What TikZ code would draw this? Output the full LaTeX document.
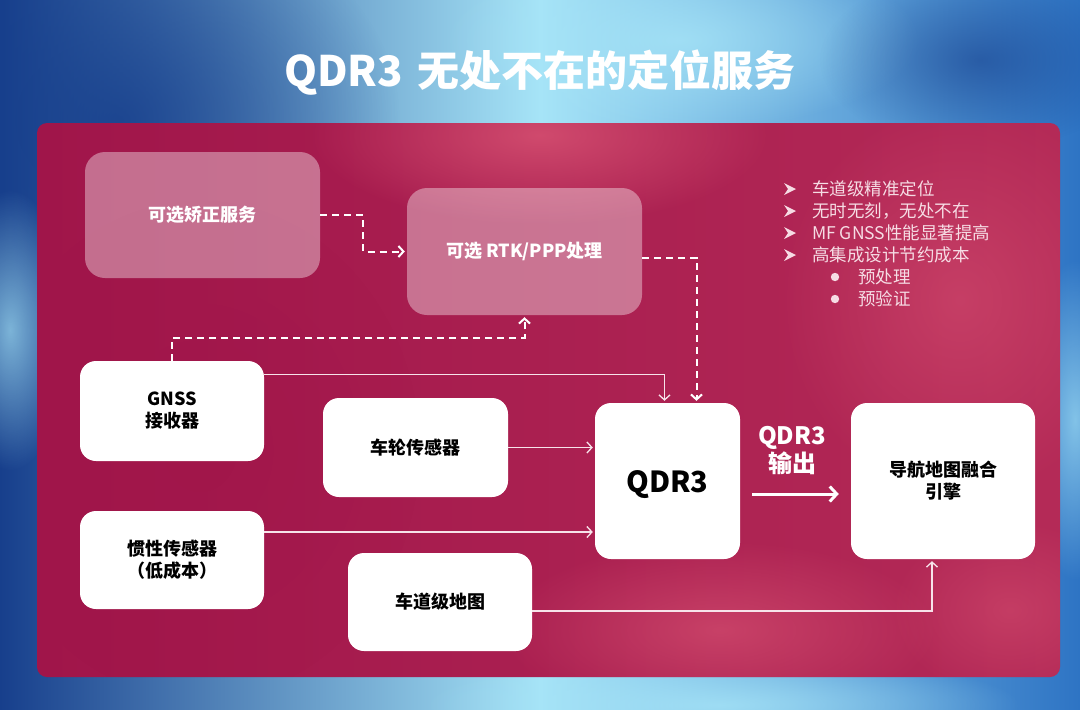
\documentclass[tikz,border=0pt]{standalone}
\usepackage{fontspec}
\setmainfont{Noto Sans CJK SC}
\usetikzlibrary{arrows.meta,fadings}
\tikzfading[name=softspot, inner color=transparent!0, outer color=transparent!100]
\definecolor{bgdark}{HTML}{173F8C}
\definecolor{bgmid}{HTML}{2E74C4}
\definecolor{bglight}{HTML}{A6E4F7}
\definecolor{panelA}{HTML}{A0154A}
\definecolor{panelB}{HTML}{B42A57}
\definecolor{spotpink}{HTML}{DA5575}
\definecolor{bullettext}{HTML}{F6DCE4}
\definecolor{linecol}{HTML}{F7E3EA}
\tikzset{
  wbox/.style={draw=none, fill=white, rounded corners=16pt, align=center, text=black,
    font=\bfseries\fontsize{18}{22}\selectfont},
  pbox/.style={draw=none, fill=white, fill opacity=0.38, text opacity=1, text=white,
    rounded corners=20pt, align=center, font=\bfseries\fontsize{18}{22}\selectfont},
  dsh/.style={draw=white, line width=2pt, dash pattern=on 7pt off 5pt,
    -{Straight Barb[length=5pt,width=11pt]}, shorten >=2pt},
  sol/.style={draw=linecol, line width=1.3pt, -{Straight Barb[length=5pt,width=11pt]}, shorten >=2pt},
  btext/.style={anchor=west, text=bullettext, inner sep=0pt, font=\fontsize{17.5}{20}\selectfont},
}
\begin{document}
\begin{tikzpicture}[x=1pt,y=-1pt]
\useasboundingbox (0,0) rectangle (1080,710);
% background
\shade[left color=bgdark, right color=bgmid, middle color=bglight] (0,0) rectangle (1080,710);
\fill[bgdark, path fading=softspot, opacity=0.8] (120,120) ellipse [x radius=280, y radius=220];
\fill[bglight, path fading=softspot, opacity=0.8] (680,40) ellipse [x radius=240, y radius=90];
\fill[bglight, path fading=softspot, opacity=0.7] (10,330) ellipse [x radius=60, y radius=140];
\fill[bglight, path fading=softspot, opacity=0.7] (1075,420) ellipse [x radius=50, y radius=160];
\fill[bglight, path fading=softspot, opacity=0.8] (720,705) ellipse [x radius=300, y radius=50];
\fill[bgdark, path fading=softspot, opacity=0.6] (980,60) ellipse [x radius=160, y radius=90];
% title
\node[text=white, font=\bfseries\fontsize{42}{50}\selectfont] (title) at (540,73) {QDR3\hspace{0.35em}无处不在的定位服务};
% panel
\shade[left color=panelA, right color=panelB, rounded corners=10pt] (37,123) rectangle (1060,677);
\begin{scope}
\clip[rounded corners=10pt] (37,123) rectangle (1060,677);
\fill[spotpink, path fading=softspot, opacity=0.8] (540,135) ellipse [x radius=230, y radius=90];
\fill[spotpink, path fading=softspot, opacity=0.5] (960,300) ellipse [x radius=180, y radius=200];
\fill[spotpink, path fading=softspot, opacity=0.6] (720,630) ellipse [x radius=220, y radius=90];
\fill[spotpink, path fading=softspot, opacity=0.45] (1010,610) ellipse [x radius=120, y radius=90];
\fill[panelA, path fading=softspot, opacity=0.6] (200,450) ellipse [x radius=220, y radius=250];
\end{scope}
% boxes
\node[pbox, minimum width=235pt, minimum height=126pt] (corr) at (202.5,215) {可选矫正服务};
\node[pbox, minimum width=235pt, minimum height=127pt] (rtk) at (524.5,251.5) {可选 RTK/PPP处理};
\node[wbox, minimum width=184pt, minimum height=100pt] (gnss) at (172,411) {GNSS\\接收器};
\node[wbox, minimum width=185pt, minimum height=99pt] (wheel) at (415.5,447.5) {车轮传感器};
\node[wbox, minimum width=184pt, minimum height=98pt] (imu) at (172,560) {惯性传感器\\（低成本）};
\node[wbox, minimum width=184pt, minimum height=98pt] (map) at (440,602) {车道级地图};
\node[wbox, minimum width=145pt, minimum height=156pt] (qdr) at (667.5,481) {};
\node[text=black, font=\bfseries\fontsize{29}{34}\selectfont] (qdrtext) at ([yshift=-4pt]qdr.center) {QDR3};
\node[wbox, minimum width=184pt, minimum height=156pt] (nav) at (943,481) {导航地图融合\\引擎};
% connectors
\draw[dsh] (corr.east) -- ++(43,0) |- (rtk.west);
\draw[dsh] ([yshift=-6pt]rtk.east) -| ([xshift=29pt]qdr.north);
\draw[dsh] (gnss.north) -- ++(0,-23) -| (rtk.south);
\draw[sol] ([yshift=-14pt]gnss.north east) -| ([xshift=-3pt]qdr.north);
\draw[sol] (wheel.east) -- (wheel.east -| qdr.west);
\coordinate (imuo) at ([yshift=28pt]imu.east);
\draw[sol] (imuo) -- (imuo -| qdr.west);
\coordinate (mapo) at ([yshift=-9pt]map.east);
\draw[sol] (mapo) -| ([xshift=-11pt]nav.south);
\coordinate (oa) at ([xshift=12pt,yshift=-13pt]qdr.east);
\coordinate (ob) at ([xshift=-12pt,yshift=-13pt]nav.west);
\draw[white, line width=3pt, -{Straight Barb[length=7pt,width=15pt]}] (oa) -- (ob);
\node[text=white, align=center, font=\bfseries\fontsize{24}{28}\selectfont] (outlbl) at (792,451) {QDR3\\输出};
% bullet list
\foreach \yy in {189,211,233,255}{
  \fill[bullettext] (784,\yy-6) -- (796,\yy) -- (784,\yy+6) -- (788,\yy) -- cycle;
}
\node[btext] (b1) at (812,189) {车道级精准定位};
\node[btext] (b2) at (812,211) {无时无刻，无处不在};
\node[btext] (b3) at (812,233) {MF GNSS性能显著提高};
\node[btext] (b4) at (812,255) {高集成设计节约成本};
\fill[bullettext] (835,277) circle (4.2);
\fill[bullettext] (835,299) circle (4.2);
\node[btext] (b5) at (858,277) {预处理};
\node[btext] (b6) at (858,299) {预验证};
\end{tikzpicture}
\end{document}
